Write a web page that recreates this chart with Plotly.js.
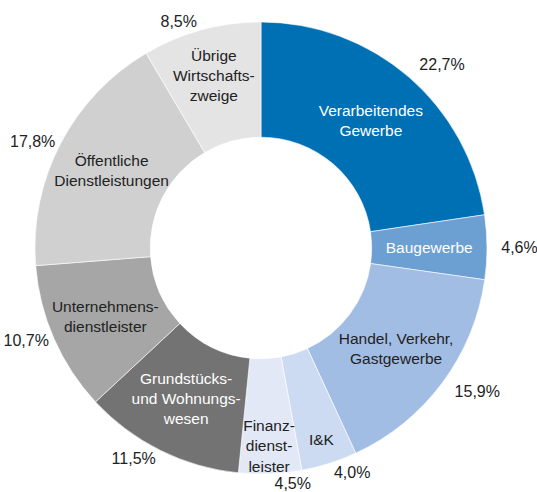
<!DOCTYPE html>
<html><head><meta charset="utf-8">
<script src="https://cdn.plot.ly/plotly-3.0.1.min.js"></script>
<style>html,body{margin:0;padding:0;background:#fff;}#chart{width:537px;height:492px;}</style>
</head><body><div id="chart"></div>
<script>
const categories = ["Verarbeitendes<br>Gewerbe","Baugewerbe","Handel, Verkehr,<br>Gastgewerbe","I&K","Finanz-<br>dienst-<br>leister","Grundstücks-<br>und Wohnungs-<br>wesen","Unternehmens-<br>dienstleister","Öffentliche<br>Dienstleistungen","Übrige<br>Wirtschafts-<br>zweige"];
const shares = [22.7, 4.6, 15.9, 4.0, 4.5, 11.5, 10.7, 17.8, 8.5];
const colors = ["#0070b4","#6c9fd2","#a2bde4","#ccdbf2","#e2e8f6","#737373","#a5a6a5","#cfd0cf","#e4e4e4"];
const textColors = ["#ffffff","#ffffff","#222222","#222222","#222222","#ffffff","#222222","#222222","#222222"];
// which percentage label group each slice belongs to (0: right-side labels, 1/2: others)
const labelGroup = [0, 0, 0, 1, 2, 1, 2, 1, 2];

const FONT = 'Liberation Sans, Arial, Helvetica, sans-serif';
const cx = 0.486, cy = 0.496;
function domainFor(rPx){ return {x:[cx - rPx/537, cx + rPx/537], y:[cy - rPx/492, cy + rPx/492]}; }
const base = {
  type:'pie', values: shares, sort:false, direction:'clockwise', rotation:0,
  hole:0.49, hoverinfo:'none', showlegend:false
};
const inner = Object.assign({}, base, {
  domain: domainFor(226),
  labels: categories.map((c,i)=>'c'+i),
  text: categories, textinfo:'text', textposition:'inside',
  insidetextorientation:'horizontal',
  insidetextfont:{family:FONT, size:15.5, color:textColors},
  marker:{colors:colors, line:{color:'#ffffff', width:0.6}}
});
function pctTrace(group, rPx){
  return Object.assign({}, base, {
    domain: domainFor(rPx),
    labels: categories.map((c,i)=>'p'+group+'_'+i),
    texttemplate:'%{value:.1f}%',
    textposition: shares.map((v,i)=> labelGroup[i]===group ? 'outside' : 'none'),
    outsidetextfont:{family:FONT, size:16, color:'#222222'},
    marker:{colors:colors.map(()=> 'rgba(0,0,0,0)'), line:{width:0}}
  });
}
Plotly.newPlot('chart',[inner, pctTrace(0, 236), pctTrace(1, 227), pctTrace(2, 227)],{
  width:537, height:492, margin:{l:0,r:0,t:0,b:0},
  separators:',.', paper_bgcolor:'#fff', showlegend:false,
  uniformtext:{minsize:15.5, mode:'show'}
},{displayModeBar:false, staticPlot:true});
</script></body></html>
